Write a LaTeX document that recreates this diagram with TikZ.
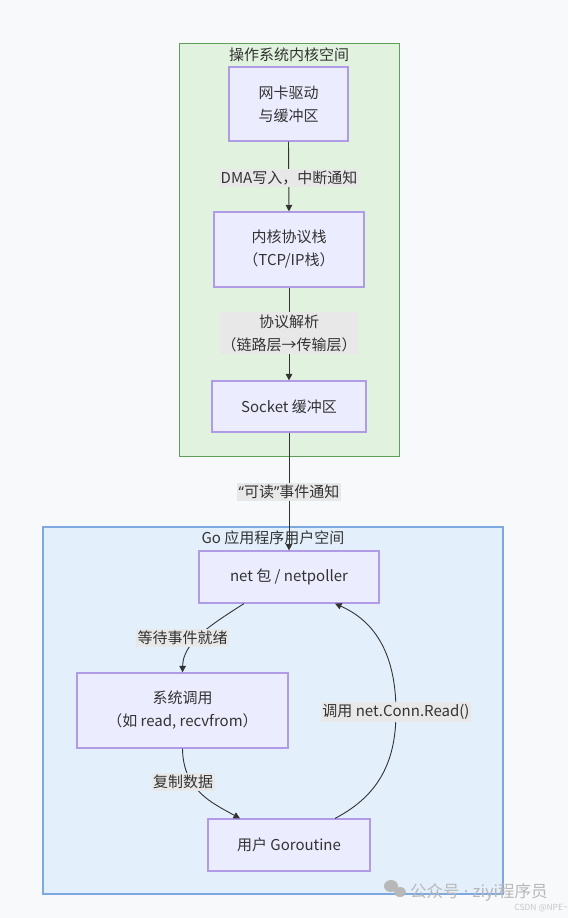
\documentclass[tikz,border=0pt]{standalone}
\usepackage{fontspec}
\setmainfont{Noto Sans CJK SC}
\newfontfamily\latf{Noto Sans}
\usetikzlibrary{calc,arrows.meta}
\definecolor{bgc}{HTML}{F8F9FB}
\definecolor{kfill}{HTML}{E1F3DE}
\definecolor{kdraw}{HTML}{5F9E58}
\definecolor{ufill}{HTML}{E3F0FC}
\definecolor{udraw}{HTML}{7DA8E0}
\definecolor{nfill}{HTML}{ECECFF}
\definecolor{ndraw}{HTML}{B09BE6}
\definecolor{txt}{HTML}{333333}
\definecolor{lblbg}{HTML}{E8E8E8}
\definecolor{wm}{HTML}{B8B8B8}
\tikzset{
  box/.style={draw=ndraw, fill=nfill, line width=1.2pt, text=txt, align=center,
    font=\fontsize{15}{23}\selectfont, inner sep=0pt},
  lbl/.style={fill=lblbg, text=txt, align=center, inner xsep=1.5pt, inner ysep=2pt,
    font=\fontsize{15}{23}\selectfont},
  ctitle/.style={text=txt, font=\fontsize{15}{18}\selectfont, inner sep=0pt},
  edge/.style={draw=txt, line width=0.9pt, -{Triangle[length=6.5pt,width=6.5pt]}}
}
\begin{document}
\begin{tikzpicture}[x=1pt,y=-1pt]
\path[fill=bgc] (0,0) rectangle (568,918);
\useasboundingbox (0,0) rectangle (568,918);
% clusters
\path[fill=kfill, draw=kdraw, line width=1pt] (179,43) rectangle (399,456);
\node[ctitle] (kt) at (289,55) {操作系统内核空间};
\path[fill=ufill, draw=udraw, line width=1.2pt] (43,527) rectangle (503,894);
\node[ctitle] (ut) at (273,538) {Go 应用程序用户空间};
% nodes
\node[box, minimum width=119pt, minimum height=74pt] (nic) at (288.5,104) {网卡驱动\\与缓冲区};
\node[box, minimum width=150pt, minimum height=75pt] (tcp) at (289,249.5) {内核协议栈\\（TCP/IP栈）};
\node[box, minimum width=154pt, minimum height=51pt] (sock) at (289,406.5) {Socket 缓冲区};
\node[box, minimum width=180pt, minimum height=52pt] (net) at (289,577) {net 包 / netpoller};
\node[box, minimum width=211pt, minimum height=75pt] (sys) at (182.5,710.5) {系统调用\\（如 read, recvfrom）};
\node[box, minimum width=162pt, minimum height=52pt] (gor) at (289,845) {用户 Goroutine};
% straight edges
\draw[edge] (nic.south) -- (tcp.north);
\node[lbl] (l1) at (289,178) {DMA写入，中断通知};
\draw[edge] (tcp.south) -- (sock.north);
\node[lbl] (l2) at (289,333) {协议解析\\（链路层→传输层）};
\draw[edge] (sock.south) -- (net.north);
\node[lbl] (l3) at (289,492) {{\latf “}可读{\latf ”}事件通知};
% curved edges
\draw[edge] ($(net.south)+(-45,0)$) .. controls (212,624) and (183,642) .. (sys.north);
\node[lbl] (l4) at (182.5,638) {等待事件就绪};
\draw[edge] (sys.south) .. controls (183,790) and (212,803) .. ($(gor.north)+(-49,0)$);
\node[lbl] (l5) at (183,782) {复制数据};
\draw[edge] ($(gor.north)+(46,0)$) .. controls (380,795) and (396,760) .. (396,712)
   .. controls (396,650) and (372,620) .. ($(net.south)+(46,0)$);
\node[lbl] (l6) at (396,712) {调用 net.Conn.Read()};
% watermark
\fill[wm] (391,886) ellipse (7pt and 6pt);
\fill[wm] (400,892) ellipse (6pt and 5pt);
\node[text=wm, anchor=west, font=\fontsize{16.5}{18}\selectfont, inner sep=0pt] (wm1) at (410,892) {公众号{\latf\ ·\ }ziyi程序员};
\node[text=wm!80!white, anchor=east, font=\fontsize{8.5}{10}\selectfont, inner sep=0pt] (wm2) at (568,908) {CSDN @NPE\textasciitilde};
\end{tikzpicture}
\end{document}
